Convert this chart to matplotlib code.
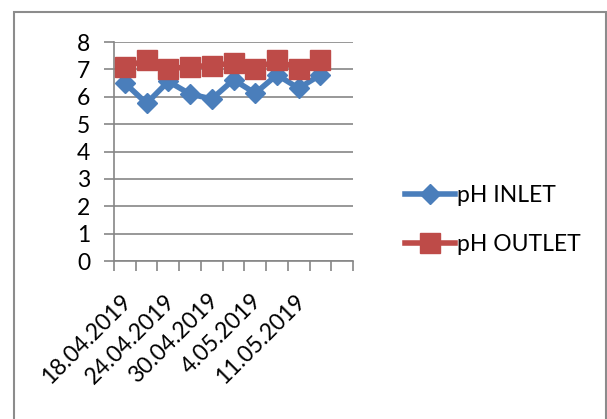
import matplotlib
matplotlib.use("Agg")
import matplotlib.pyplot as plt
from matplotlib.patches import Rectangle

categories = ["18.04.2019", "", "24.04.2019", "", "30.04.2019", "", "4.05.2019", "", "11.05.2019", "", ""]
ph_inlet = [6.5, 5.76, 6.56, 6.1, 5.92, 6.62, 6.13, 6.8, 6.31, 6.8]
ph_outlet = [7.1, 7.33, 7.02, 7.1, 7.14, 7.23, 7.02, 7.33, 7.02, 7.33]
yticks = [0, 1, 2, 3, 4, 5, 6, 7, 8]

plt.rcParams['font.family'] = ['Lato', 'DejaVu Sans']

W, H = 607, 419
fig = plt.figure(figsize=(W / 100, H / 100), dpi=100)
fig.patch.set_facecolor('white')

# chart border
fig.patches.append(Rectangle((14 / W, -0.05), (605.5 - 14) / W, 1.05 - 12 / H,
                             transform=fig.transFigure, fill=False,
                             edgecolor='#8c8c8c', linewidth=1.5))

left, right, top, bottom = 114, 353, 42, 261
ax = fig.add_axes([left / W, 1 - bottom / H, (right - left) / W, (bottom - top) / H])

n = len(categories)
xs = [i + 0.5 for i in range(len(ph_inlet))]
blue = '#4a7ebb'
red = '#be4b48'
l1, = ax.plot(xs, ph_inlet, color=blue, linewidth=4, marker='D', markersize=10,
              markeredgecolor=blue, markerfacecolor=blue, label='pH INLET', zorder=3)
l2, = ax.plot(xs, ph_outlet, color=red, linewidth=4, marker='s', markersize=14,
              markeredgecolor=red, markerfacecolor=red, label='pH OUTLET', zorder=4)

fs = 16.5
ax.set_xlim(0, n)
ax.set_ylim(0, 8)
ax.set_yticks(yticks)
ax.set_yticklabels([str(v) for v in yticks], fontsize=fs)
ax.yaxis.grid(True, color='#868686', linewidth=1.2)
ax.set_axisbelow(True)
ax.set_xticks(range(n + 1))
ax.set_xticklabels([])
ax.set_xticks([i + 0.3 for i in range(n)], minor=True)
ax.set_xticklabels(categories, minor=True, rotation=45, ha='right',
                   rotation_mode='anchor', fontsize=fs)
ax.tick_params(axis='x', which='major', length=7, color='#868686', width=1.2, direction='out')
ax.tick_params(axis='x', which='minor', length=0, pad=21)
ax.tick_params(axis='y', length=7, color='#868686', width=1.2, pad=10)
for s in ['top', 'right']:
    ax.spines[s].set_visible(False)
for s in ['left', 'bottom']:
    ax.spines[s].set_color('#868686')
    ax.spines[s].set_linewidth(1.2)

leg = fig.legend(handles=[l1, l2], loc='center left',
                 bbox_to_anchor=(384 / W, 1 - 220 / H), frameon=False,
                 fontsize=fs, handlelength=2.2, labelspacing=1.2,
                 handletextpad=0.1)

fig.savefig('out.png', dpi=100)
